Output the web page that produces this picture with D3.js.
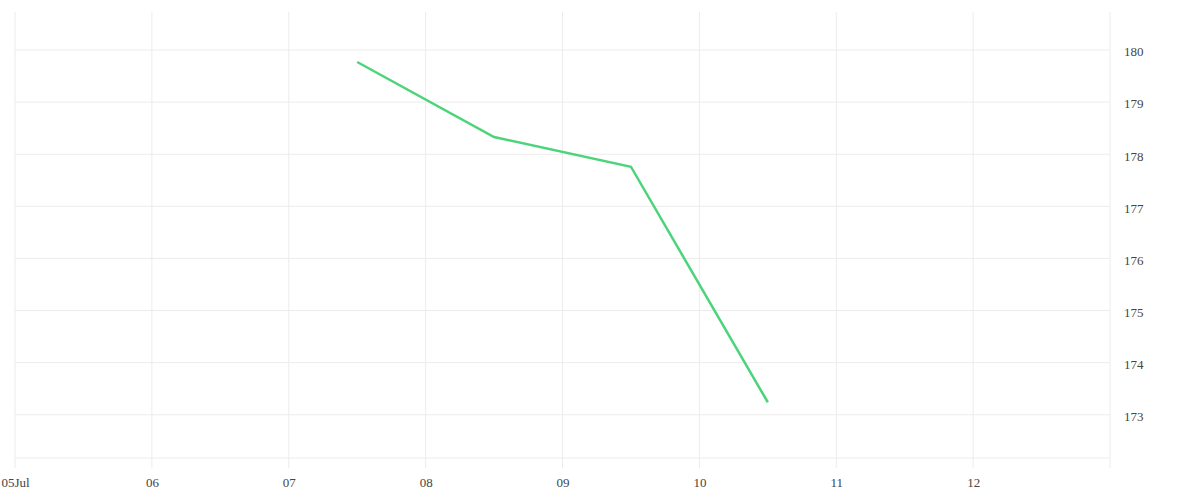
<!DOCTYPE html>
<html>
<head>
<meta charset="utf-8">
<script src="https://cdn.jsdelivr.net/npm/d3@7"></script>
<style>
  body { margin: 0; background: #fff; }
  .tick text { font-family: "Liberation Serif", serif; font-size: 13px; fill: #444; }
</style>
</head>
<body>
<div id="chart"></div>
<script>
var svgWidth = 1200;
var svgHeight = 500;

// data
var dates = ["2023-07-07T12:00", "2023-07-08T12:00", "2023-07-09T12:00", "2023-07-10T12:00"];
var values = [179.77, 178.33, 177.76, 173.24];
var yTicks = [173, 174, 175, 176, 177, 178, 179, 180];

var margin = { top: 12, right: 90, bottom: 42, left: 15 };
var width = svgWidth - margin.left - margin.right;
var height = svgHeight - margin.top - margin.bottom;

var parse = d3.timeParse("%Y-%m-%dT%H:%M");
var data = dates.map((d, i) => ({ date: parse(d), value: values[i] }));

var svg = d3.select("#chart")
  .append("svg")
  .attr("width", svgWidth)
  .attr("height", svgHeight);

var chartGroup = svg.append("g")
  .attr("transform", `translate(${margin.left}, ${margin.top})`);

var x = d3.scaleTime()
  .domain([new Date(2023, 6, 5), new Date(2023, 6, 13)])
  .range([0, width]);

var y = d3.scaleLinear()
  .domain([172.17, 180.73])
  .range([height, 0]);

// gridlines
var xGridTicks = d3.timeDay.range(new Date(2023, 6, 5), new Date(2023, 6, 13));
chartGroup.append("g")
  .selectAll("line")
  .data(xGridTicks)
  .enter()
  .append("line")
  .attr("x1", d => x(d))
  .attr("x2", d => x(d))
  .attr("y1", 0)
  .attr("y2", height + 10)
  .attr("stroke", "#ececec");

chartGroup.append("g")
  .selectAll("line")
  .data(yTicks)
  .enter()
  .append("line")
  .attr("x1", 0)
  .attr("x2", width)
  .attr("y1", d => y(d))
  .attr("y2", d => y(d))
  .attr("stroke", "#ececec");

// bottom line and right border
chartGroup.append("line")
  .attr("x1", 0).attr("x2", width)
  .attr("y1", height).attr("y2", height)
  .attr("stroke", "#ececec");
chartGroup.append("line")
  .attr("x1", width).attr("x2", width)
  .attr("y1", 0).attr("y2", height + 10)
  .attr("stroke", "#ececec");

// x axis
var fmt = d3.timeFormat("%d");
var bottomAxis = d3.axisBottom(x)
  .tickValues(xGridTicks)
  .tickSize(0)
  .tickPadding(20)
  .tickFormat((d, i) => i === 0 ? fmt(d) + "Jul" : fmt(d));

var xAxis = chartGroup.append("g")
  .attr("transform", `translate(0, ${height})`)
  .call(bottomAxis);
xAxis.select(".domain").remove();

// y axis on right
var rightAxis = d3.axisRight(y)
  .tickValues(yTicks)
  .tickSize(0)
  .tickPadding(14);

var yAxis = chartGroup.append("g")
  .attr("transform", `translate(${width}, 0)`)
  .call(rightAxis);
yAxis.select(".domain").remove();
yAxis.selectAll("text").attr("dy", "0.45em");

// line
var line = d3.line()
  .x(d => x(d.date))
  .y(d => y(d.value));

chartGroup.append("path")
  .datum(data)
  .attr("fill", "none")
  .attr("stroke", "#4cd47b")
  .attr("stroke-width", 2.5)
  .attr("d", line);
</script>
</body>
</html>
